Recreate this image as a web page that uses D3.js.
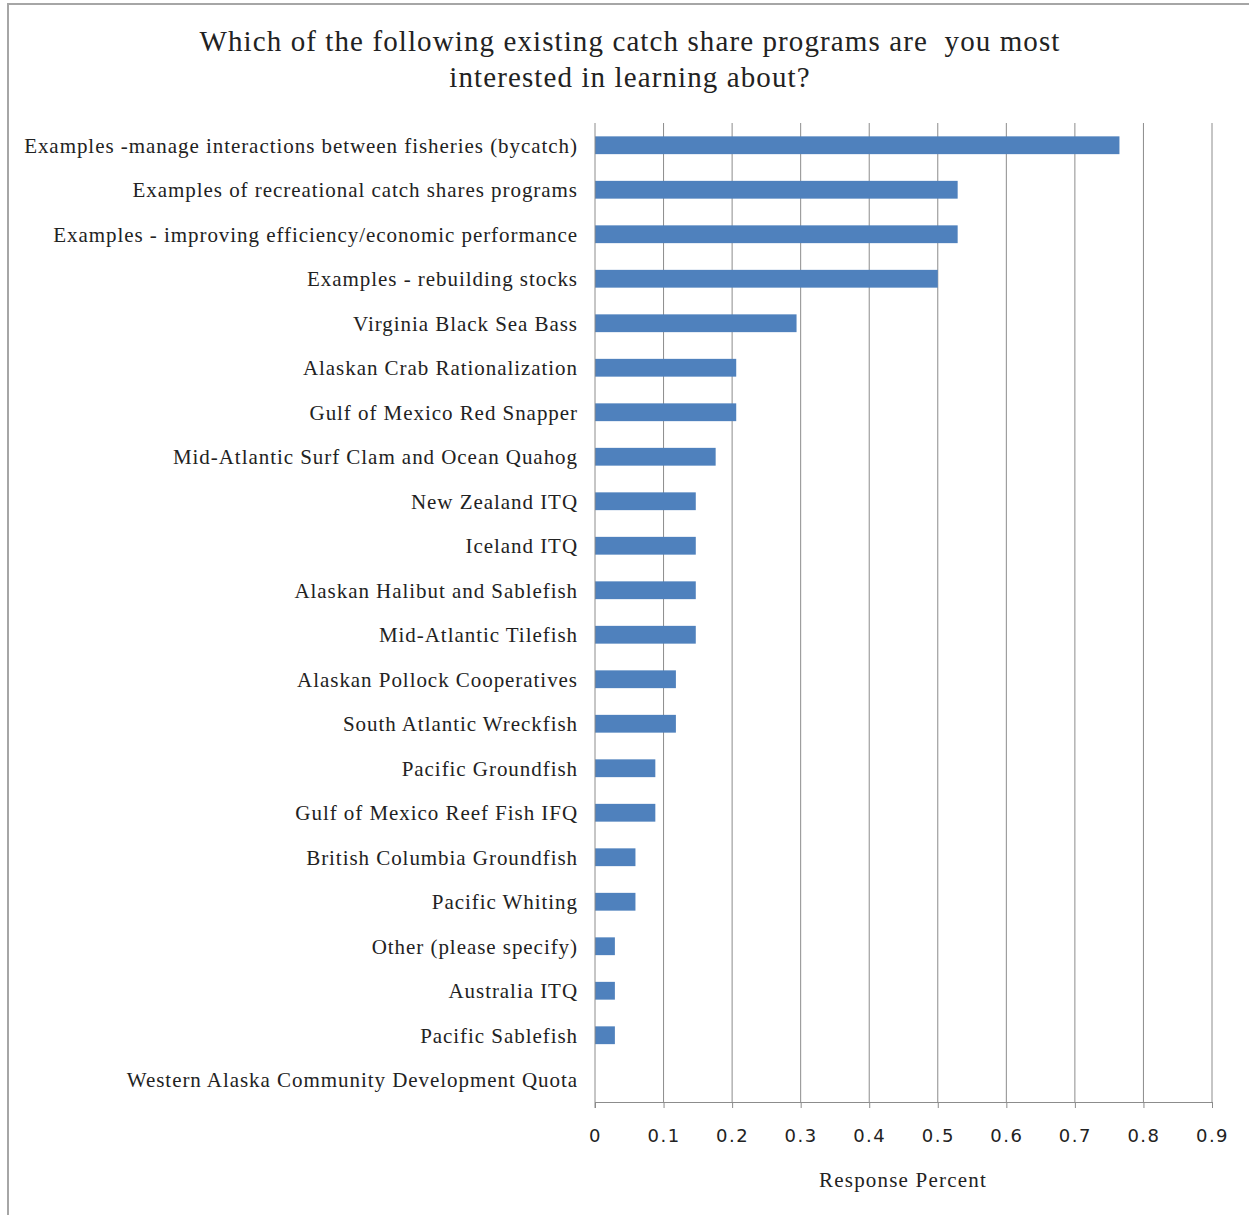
<!DOCTYPE html>
<html><head><meta charset="utf-8">
<script src="https://cdn.jsdelivr.net/npm/d3@7"></script>
<style>body{margin:0;background:#fff}svg{display:block}</style>
</head><body>
<script>
const categories = [
  "Examples -manage interactions between fisheries (bycatch)",
  "Examples of recreational catch shares programs",
  "Examples - improving efficiency/economic performance",
  "Examples - rebuilding stocks",
  "Virginia Black Sea Bass",
  "Alaskan Crab Rationalization",
  "Gulf of Mexico Red Snapper",
  "Mid-Atlantic Surf Clam and Ocean Quahog",
  "New Zealand ITQ",
  "Iceland ITQ",
  "Alaskan Halibut and Sablefish",
  "Mid-Atlantic Tilefish",
  "Alaskan Pollock Cooperatives",
  "South Atlantic Wreckfish",
  "Pacific Groundfish",
  "Gulf of Mexico Reef Fish IFQ",
  "British Columbia Groundfish",
  "Pacific Whiting",
  "Other (please specify)",
  "Australia ITQ",
  "Pacific Sablefish",
  "Western Alaska Community Development Quota"
];
const values = [0.765, 0.529, 0.529, 0.5, 0.294, 0.206, 0.206, 0.176, 0.147, 0.147, 0.147, 0.147, 0.118, 0.118, 0.088, 0.088, 0.059, 0.059, 0.029, 0.029, 0.029, 0];
const xTicks = [0, 0.1, 0.2, 0.3, 0.4, 0.5, 0.6, 0.7, 0.8, 0.9];
const titleLines = ["Which of the following existing catch share programs are  you most", "interested in learning about?"];
const xTitle = "Response Percent";

(function () {
const W = 1249, H = 1215;
const svg = d3.select("body").append("svg").attr("width", W).attr("height", H);
svg.append("rect").attr("width", W).attr("height", H).attr("fill", "#fff");
svg.append("rect").attr("x", 8).attr("y", 4).attr("width", W + 10).attr("height", H + 10)
  .attr("fill", "none").attr("stroke", "#a6a6a6").attr("stroke-width", 2);

const pLeft = 595, pRight = 1212, pTop = 123, pBottom = 1102;
const x = d3.scaleLinear().domain([0, 0.9]).range([pLeft, pRight]);
const y = d3.scaleBand().domain(categories).range([pTop, pBottom]).paddingInner(0.6).paddingOuter(0.3);

// gridlines
svg.append("g").selectAll("line").data(xTicks.slice(1)).join("line")
  .attr("x1", d => x(d)).attr("x2", d => x(d)).attr("y1", pTop).attr("y2", pBottom)
  .attr("stroke", "#8c8c8c").attr("stroke-width", 1);

// bars
svg.append("g").selectAll("rect").data(values).join("rect")
  .attr("x", x(0)).attr("y", (d, i) => y(categories[i]))
  .attr("width", d => x(d) - x(0)).attr("height", y.bandwidth())
  .attr("fill", "#4f81bd");

// x axis
const xAxis = d3.axisBottom(x).tickValues(xTicks).tickSize(6).tickPadding(21)
  .tickFormat(d => d === 0 ? "0" : d3.format(".1f")(d));
const gx = svg.append("g").attr("transform", `translate(0,${pBottom})`).call(xAxis);
gx.select(".domain").attr("stroke", "#8c8c8c").attr("d", `M${pLeft},0.5H${pRight}`);
gx.selectAll(".tick line").attr("stroke", "#8c8c8c");
gx.selectAll(".tick text").attr("font-family", "DejaVu Sans").attr("font-size", 18)
  .attr("letter-spacing", "1.5px").attr("fill", "#222");

// y axis line
svg.append("line").attr("x1", pLeft).attr("x2", pLeft).attr("y1", pTop).attr("y2", pBottom + 6)
  .attr("stroke", "#8c8c8c");

// category labels
svg.append("g").selectAll("text").data(categories).join("text")
  .attr("x", 578).attr("y", d => y(d) + y.bandwidth() / 2)
  .attr("dy", "0.35em").attr("text-anchor", "end")
  .attr("font-family", "Liberation Serif").attr("font-size", 21).attr("fill", "#222")
  .attr("letter-spacing", "0.95px")
  .text(d => d);

// title
svg.append("g").selectAll("text").data(titleLines).join("text")
  .attr("x", 630).attr("y", (d, i) => 51 + i * 36).attr("text-anchor", "middle")
  .attr("font-family", "Liberation Serif").attr("font-size", 29).attr("fill", "#222")
  .attr("letter-spacing", "1.1px")
  .style("white-space", "pre").text(d => d);

// x title
svg.append("text").attr("x", 903).attr("y", 1187).attr("text-anchor", "middle")
  .attr("font-family", "Liberation Serif").attr("font-size", 21).attr("fill", "#222")
  .attr("letter-spacing", "1.2px")
  .text(xTitle);
})();
</script>
</body></html>
